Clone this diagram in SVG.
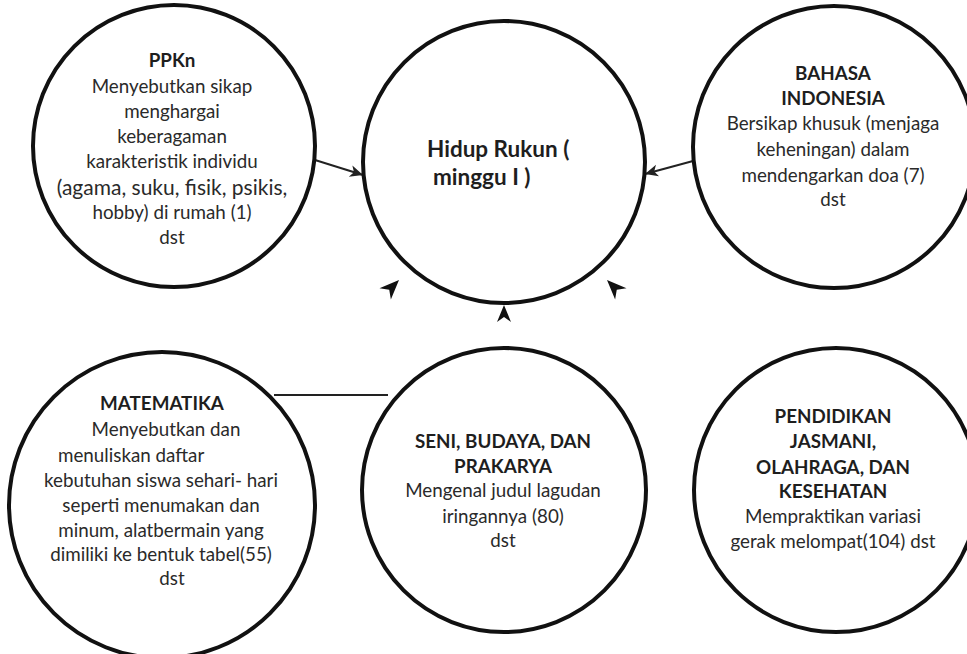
<svg xmlns="http://www.w3.org/2000/svg" width="967" height="654" viewBox="0 0 967 654">
  <style>
    .node { fill: #ffffff; stroke: #111111; stroke-width: 4; }
    .t { font-family: Lato, "Liberation Sans", sans-serif; font-size: 18.8px; fill: #2a2a2a; text-anchor: middle; }
    .b { font-weight: bold; fill: #1e1e1e; }
    .big { font-size: 21px; }
    .title { font-size: 22.5px; text-anchor: start; }
    .conn { stroke: #222222; stroke-width: 2; fill: none; }
    .head { fill: #111111; }
  </style>
  <defs>
    <!-- notched arrowhead, tip at origin pointing up -->
    <path id="ah" d="M0,0 L7,17 L0,12 L-7,17 Z"/>
    <marker id="arr" markerWidth="14" markerHeight="14" refX="13" refY="6" orient="auto" markerUnits="userSpaceOnUse">
      <path d="M0,0 L13,6 L0,12 L3.5,6 Z" fill="#222222"/>
    </marker>
  </defs>

  <rect width="967" height="654" fill="#ffffff"/>

  <g id="connectors">
    <line class="conn" x1="315" y1="160" x2="363" y2="175" marker-end="url(#arr)"/>
    <line class="conn" x1="693" y1="161" x2="645" y2="174" marker-end="url(#arr)"/>
    <line class="conn" x1="274" y1="395" x2="388" y2="395"/>
    <use href="#ah" class="head" transform="translate(504,305)"/>
    <use href="#ah" class="head" transform="translate(399,280) rotate(45) scale(1.15)"/>
    <use href="#ah" class="head" transform="translate(607,280) rotate(-45) scale(1.15)"/>
  </g>

  <g id="ppkn">
    <circle class="node" cx="174" cy="146" r="141"/>
    <text class="t b" x="172" y="67">PPKn</text>
    <text class="t" x="172" y="93">Menyebutkan sikap</text>
    <text class="t" x="172" y="118">menghargai</text>
    <text class="t" x="172" y="143">keberagaman</text>
    <text class="t" x="172" y="168">karakteristik individu</text>
    <text class="t big" x="172" y="195">(agama, suku, fisik, psikis,</text>
    <text class="t" x="172" y="219">hobby) di rumah (1)</text>
    <text class="t" x="172" y="244">dst</text>
  </g>

  <g id="hidup-rukun">
    <circle class="node" cx="504" cy="162" r="141"/>
    <text class="t b title" x="427" y="157">Hidup Rukun (</text>
    <text class="t b title" x="433" y="185">minggu I )</text>
  </g>

  <g id="bahasa-indonesia">
    <circle class="node" cx="834" cy="147" r="141"/>
    <text class="t b" x="833" y="80">BAHASA</text>
    <text class="t b" x="833" y="105">INDONESIA</text>
    <text class="t" x="833" y="130">Bersikap khusuk (menjaga</text>
    <text class="t" x="833" y="156">keheningan) dalam</text>
    <text class="t" x="833" y="182">mendengarkan doa (7)</text>
    <text class="t" x="833" y="206">dst</text>
  </g>

  <g id="matematika">
    <circle class="node" cx="162" cy="505" r="153"/>
    <text class="t b" x="162" y="410">MATEMATIKA</text>
    <text class="t" x="166" y="436">Menyebutkan dan</text>
    <text class="t" x="58" y="462" style="text-anchor:start">menuliskan daftar</text>
    <text class="t" x="161" y="487">kebutuhan siswa sehari- hari</text>
    <text class="t" x="161" y="512">seperti menumakan dan</text>
    <text class="t" x="161" y="537">minum, alatbermain yang</text>
    <text class="t" x="161" y="561">dimiliki ke bentuk tabel(55)</text>
    <text class="t" x="172" y="585">dst</text>
  </g>

  <g id="seni-budaya">
    <circle class="node" cx="504" cy="490" r="142"/>
    <text class="t b" x="503" y="448">SENI, BUDAYA, DAN</text>
    <text class="t b" x="503" y="473">PRAKARYA</text>
    <text class="t" x="503" y="497">Mengenal judul lagudan</text>
    <text class="t" x="503" y="523">iringannya (80)</text>
    <text class="t" x="503" y="547">dst</text>
  </g>

  <g id="pjok">
    <circle class="node" cx="836" cy="490" r="142"/>
    <text class="t b" x="833" y="423">PENDIDIKAN</text>
    <text class="t b" x="833" y="448">JASMANI,</text>
    <text class="t b" x="833" y="474">OLAHRAGA, DAN</text>
    <text class="t b" x="833" y="498">KESEHATAN</text>
    <text class="t" x="833" y="523">Mempraktikan variasi</text>
    <text class="t" x="833" y="548">gerak melompat(104) dst</text>
  </g>
</svg>
